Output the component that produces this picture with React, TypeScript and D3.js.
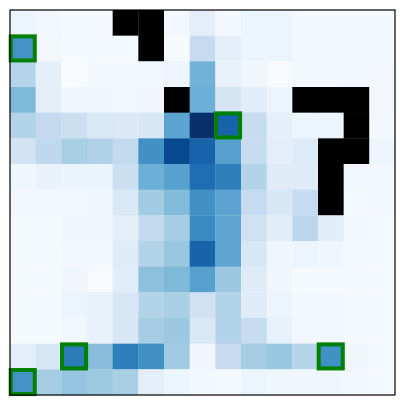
import React from "react";
import * as d3 from "d3";

const N = 15;
// null = masked cell (drawn black)
const row0 = [0.05, 0.03, 0.01, 0.01, null, null, 0.02, 0.1, 0.02, 0.05, 0.05, 0.02, 0.02, 0.02, 0.02];
const row1 = [0.62, 0.03, 0.01, 0.01, 0.01, null, 0.01, 0.25, 0.09, 0.05, 0.05, 0.02, 0.03, 0.02, 0.02];
const row2 = [0.3, 0.09, 0.0, 0.02, 0.02, 0.03, 0.05, 0.48, 0.08, 0.04, 0.0, 0.02, 0.02, 0.03, 0.03];
const row3 = [0.45, 0.1, 0.04, 0.04, 0.03, 0.04, null, 0.5, 0.17, 0.11, 0.05, null, null, null, 0.03];
const row4 = [0.31, 0.26, 0.22, 0.15, 0.14, 0.16, 0.55, 1.0, 0.8, 0.24, 0.09, 0.05, 0.05, null, 0.02];
const row5 = [0.19, 0.27, 0.34, 0.32, 0.26, 0.63, 0.9, 0.8, 0.56, 0.24, 0.1, 0.13, null, null, 0.05];
const row6 = [0.04, 0.07, 0.06, 0.06, 0.22, 0.5, 0.56, 0.76, 0.7, 0.31, 0.12, 0.12, null, 0.02, 0.02];
const row7 = [0.02, 0.02, 0.03, 0.04, 0.15, 0.37, 0.44, 0.63, 0.55, 0.25, 0.16, 0.25, null, 0.01, 0.02];
const row8 = [0.01, 0.01, 0.04, 0.04, 0.1, 0.26, 0.35, 0.65, 0.54, 0.2, 0.11, 0.28, 0.11, 0.02, 0.01];
const row9 = [0.01, 0.01, 0.02, 0.02, 0.12, 0.31, 0.39, 0.8, 0.54, 0.16, 0.04, 0.05, 0.04, 0.01, 0.01];
const row10 = [0.01, 0.01, 0.04, 0.0, 0.11, 0.42, 0.45, 0.56, 0.38, 0.12, 0.04, 0.01, 0.01, 0.01, 0.01];
const row11 = [0.01, 0.01, 0.05, 0.07, 0.16, 0.31, 0.34, 0.2, 0.31, 0.12, 0.05, 0.02, 0.02, 0.01, 0.01];
const row12 = [0.01, 0.01, 0.03, 0.07, 0.16, 0.35, 0.38, 0.15, 0.31, 0.24, 0.08, 0.03, 0.03, 0.01, 0.01];
const row13 = [0.1, 0.16, 0.71, 0.43, 0.7, 0.63, 0.37, 0.04, 0.25, 0.35, 0.39, 0.3, 0.63, 0.04, 0.01];
const row14 = [0.62, 0.35, 0.4, 0.375, 0.34, 0.1, 0.05, 0.02, 0.01, 0.05, 0.04, 0.04, 0.04, 0.02, 0.01];
const grid: (number | null)[][] = [row0, row1, row2, row3, row4, row5, row6, row7, row8, row9, row10, row11, row12, row13, row14];

// highlighted cells [row, col]
const highlighted: [number, number][] = [[1, 0], [4, 8], [13, 2], [13, 12], [14, 0]];

const bluesStops = ["#f7fbff", "#deebf7", "#c6dbef", "#9ecae1", "#6baed6", "#4292c6", "#2171b5", "#08519c", "#08306b"];

export default function App() {
  const left = 10, top = 10, size = 385;
  const x = d3.scaleBand<number>().domain(d3.range(N)).range([left, left + size]).padding(0);
  const y = d3.scaleBand<number>().domain(d3.range(N)).range([top, top + size]).padding(0);
  const color = d3
    .scaleLinear<string>()
    .domain(bluesStops.map((_, i) => i / (bluesStops.length - 1)))
    .range(bluesStops)
    .interpolate(d3.interpolateRgb)
    .clamp(true);
  const bw = x.bandwidth();
  return (
    <svg width={405} height={405} style={{ position: "absolute", left: 0, top: 0, background: "#fff" }}>
      <rect x={0} y={0} width={405} height={405} fill="#fff" />
      {grid.map((row, r) =>
        row.map((v, c) => (
          <rect
            key={`${r}-${c}`}
            x={x(c)!}
            y={y(r)!}
            width={bw + 0.3}
            height={bw + 0.3}
            fill={v === null ? "#000" : color(v)}
          />
        ))
      )}
      {highlighted.map(([r, c]) => (
        <rect
          key={`h-${r}-${c}`}
          x={x(c)! + 0.7}
          y={y(r)! + 0.7}
          width={bw - 1.6}
          height={bw - 1.6}
          fill="none"
          stroke="#008000"
          strokeWidth={4}
        />
      ))}
      <rect x={left} y={top} width={size} height={size} fill="none" stroke="#000" strokeWidth={1.2} />
    </svg>
  );
}
